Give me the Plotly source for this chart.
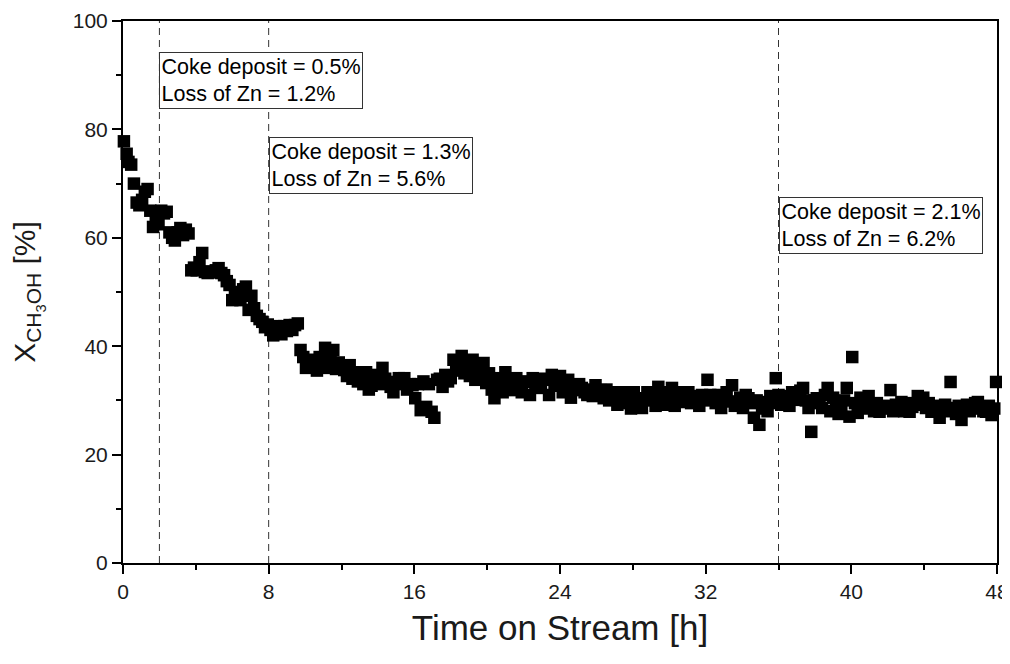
import plotly.graph_objects as go

time_h = [
    0.05,0.2,0.3,0.45,0.6,0.75,0.9,1.05,1.2,1.35,1.5,1.65,1.8,1.95,
    2.1,2.25,2.4,2.55,2.7,2.85,3.0,3.15,3.3,3.45,3.6,3.75,3.9,
    4.05,4.2,4.35,4.5,4.65,4.8,4.95,5.1,5.25,5.4,5.55,5.7,5.85,6.0,
    6.15,6.3,6.45,6.6,6.75,6.9,7.05,7.2,7.35,7.5,7.65,7.8,7.95,
    8.1,8.25,8.4,8.55,8.7,8.85,9.0,9.15,9.3,9.45,9.6,9.75,9.9,
    10.05,10.2,10.35,10.5,10.65,10.8,10.95,11.1,11.25,11.4,11.55,11.7,11.85,
    12.0,12.15,12.3,12.45,12.6,12.75,12.9,13.05,13.2,13.35,13.5,13.65,13.8,13.95,
    14.1,14.25,14.4,14.55,14.7,14.85,15.0,15.15,15.3,15.45,15.6,15.75,15.9,
    16.05,16.2,16.35,16.5,16.65,16.8,16.95,17.1,17.25,17.4,17.55,17.7,17.85,
    18.0,18.15,18.3,18.45,18.6,18.75,18.9,19.05,19.2,19.35,19.5,19.65,19.8,19.95,
    20.1,20.25,20.4,20.55,20.7,20.85,21.0,21.15,21.3,21.45,21.6,21.75,21.9,
    22.05,22.2,22.35,22.5,22.65,22.8,22.95,23.1,23.25,23.4,23.55,23.7,23.85,
    24.0,24.15,24.3,24.45,24.6,24.75,24.9,25.05,25.2,25.35,25.5,25.65,25.8,25.95,
    26.1,26.25,26.4,26.55,26.7,26.85,27.0,27.15,27.3,27.45,27.6,27.75,27.9,
    28.05,28.2,28.35,28.5,28.65,28.8,28.95,29.1,29.25,29.4,29.55,29.7,29.85,
    30.0,30.15,30.3,30.45,30.6,30.75,30.9,31.05,31.2,31.35,31.5,31.65,31.8,31.95,
    32.1,32.25,32.4,32.55,32.7,32.85,33.0,33.15,33.3,33.45,33.6,33.75,33.9,
    34.05,34.2,34.35,34.5,34.65,34.8,34.95,35.1,35.25,35.4,35.55,35.7,35.85,
    36.0,36.15,36.3,36.45,36.6,36.75,36.9,37.05,37.2,37.35,37.5,37.65,37.8,37.95,
    38.1,38.25,38.4,38.55,38.7,38.85,39.0,39.15,39.3,39.45,39.6,39.75,39.9,
    40.05,40.2,40.35,40.5,40.65,40.8,40.95,41.1,41.25,41.4,41.55,41.7,41.85,
    42.0,42.15,42.3,42.45,42.6,42.75,42.9,43.05,43.2,43.35,43.5,43.65,43.8,43.95,
    44.1,44.25,44.4,44.55,44.7,44.85,45.0,45.15,45.3,45.45,45.6,45.75,45.9,
    46.05,46.2,46.35,46.5,46.65,46.8,46.95,47.1,47.25,47.4,47.55,47.7,47.85,47.95,
]

conversion = [
    77.8,75.5,74.0,73.5,70.0,66.5,66.0,67.0,68.5,69.0,65.0,62.0,63.5,62.5,
    65.0,64.5,64.8,61.0,60.0,59.5,61.0,61.8,60.5,61.5,60.8,54.0,54.5,
    54.0,55.5,57.2,53.7,53.5,53.8,53.6,54.0,54.4,53.5,53.1,52.0,51.3,48.5,
    50.0,49.5,48.5,50.5,51.0,46.7,49.3,47.0,45.6,45.0,44.5,43.5,44.0,
    43.0,42.0,43.7,42.6,42.2,43.7,42.8,43.9,43.0,43.9,44.2,39.3,38.0,
    36.0,37.5,37.0,36.5,35.5,38.0,36.5,39.7,36.0,37.8,39.3,35.8,37.0,
    36.0,35.6,34.5,36.5,34.0,35.2,33.5,34.1,33.0,35.2,32.0,32.7,33.5,34.7,
    33.0,36.0,34.0,33.4,32.5,31.5,33.0,34.1,33.5,34.1,32.0,33.0,32.8,
    30.4,33.0,28.2,33.5,28.8,33.0,27.9,26.8,33.8,34.0,32.5,34.7,33.5,
    34.1,37.5,35.5,36.0,38.2,35.0,36.3,34.5,37.5,33.8,35.2,34.0,36.9,33.2,
    35.0,32.0,30.4,33.0,34.1,31.5,35.2,33.0,31.9,33.5,34.1,32.5,31.5,
    33.5,33.4,31.0,34.1,32.5,33.5,32.3,34.0,33.8,31.0,34.7,33.0,32.7,
    34.5,31.5,33.0,33.8,30.5,32.5,31.9,33.0,32.3,31.5,31.0,32.0,30.8,32.8,
    31.0,31.9,30.4,32.0,30.0,31.5,30.5,29.2,31.0,31.5,29.5,29.7,28.5,
    31.5,30.4,29.5,28.6,30.0,31.5,30.5,30.1,29.0,32.5,31.5,30.0,29.2,
    30.5,32.3,29.0,30.8,31.5,29.7,30.5,31.5,29.5,30.8,30.1,29.0,31.0,30.0,
    33.8,31.0,30.4,29.5,31.0,28.6,30.5,31.5,29.8,32.8,29.0,29.7,30.5,
    28.6,31.0,30.4,29.5,26.8,30.0,25.5,28.5,29.7,28.0,30.8,29.5,34.1,
    31.0,29.2,30.5,30.8,29.0,31.5,30.5,30.1,31.8,32.3,30.0,28.6,24.2,30.0,
    30.4,29.5,28.6,31.0,32.3,28.0,30.5,29.7,27.5,28.6,30.0,32.3,27.0,
    38.0,29.5,27.7,30.5,29.7,28.5,30.8,29.2,28.0,29.5,27.9,28.5,28.6,
    29.0,31.9,28.0,29.2,28.5,29.7,28.0,29.5,27.9,28.8,29.2,30.8,29.5,30.5,
    28.6,29.5,27.9,28.5,29.0,26.8,28.5,29.2,28.0,33.4,28.6,27.5,29.0,
    26.4,28.5,29.2,28.0,28.6,29.5,29.7,28.5,28.0,27.9,29.0,27.3,28.5,33.4,
]

marker_times = [2, 8, 36]
box_labels = [
    "Coke deposit = 0.5%<br>Loss of Zn = 1.2%",
    "Coke deposit = 1.3%<br>Loss of Zn = 5.6%",
    "Coke deposit = 2.1%<br>Loss of Zn = 6.2%",
]
box_tops = [94.2, 78.6, 67.6]

x_ticks = [0, 8, 16, 24, 32, 40, 48]
y_ticks = [0, 20, 40, 60, 80, 100]

FONT = "Liberation Sans"

fig = go.Figure()
fig.add_trace(go.Scatter(
    x=time_h, y=conversion, mode="markers",
    marker=dict(symbol="square", size=12.5, color="black", line=dict(width=0)),
    showlegend=False, cliponaxis=False,
))

for t in marker_times:
    fig.add_shape(type="line", x0=t, x1=t, y0=0, y1=100, xref="x", yref="y",
                  line=dict(color="#333333", width=1, dash="7px,5px"), layer="below")

for t, txt, top in zip(marker_times, box_labels, box_tops):
    fig.add_annotation(x=t, y=top, xref="x", yref="y", text=txt, showarrow=False,
                       xanchor="left", yanchor="top", align="left",
                       font=dict(family=FONT, size=21.5, color="black"),
                       bgcolor="white", bordercolor="#333333", borderwidth=1, borderpad=1.5)

axis_common = dict(
    showline=True, linecolor="black", linewidth=2, mirror=True,
    ticks="outside", tickcolor="black", tickwidth=2, ticklen=9,
    showgrid=False, zeroline=False, ticklabeloverflow="allow",
    tickfont=dict(family=FONT, size=21, color="#1a1a1a"),
)

fig.update_xaxes(range=[0, 48], tickvals=x_ticks,
                 minor=dict(ticks="outside", dtick=4, tick0=0, ticklen=5, tickcolor="black", tickwidth=2),
                 title=dict(text="Time on Stream [h]", font=dict(family=FONT, size=35, color="#1a1a1a"), standoff=13),
                 **axis_common)
fig.update_yaxes(range=[0, 100], tickvals=y_ticks,
                 minor=dict(ticks="outside", dtick=10, tick0=0, ticklen=5, tickcolor="black", tickwidth=2),
                 title=dict(text="X<sub>CH<sub>3</sub>OH</sub> [%]", font=dict(family=FONT, size=30, color="#1a1a1a"), standoff=29),
                 **axis_common)

# page body has an 8px default margin; size/margins compensate so plot area sits at
# x 123..997, y 21..563 in the 1010x664 window without making the page scroll
fig.update_layout(
    width=1002, height=640,
    margin=dict(l=115, r=13, t=13, b=85, autoexpand=False),
    plot_bgcolor="white", paper_bgcolor="white",
    font=dict(family=FONT),
)

fig.write_html("out.html")
